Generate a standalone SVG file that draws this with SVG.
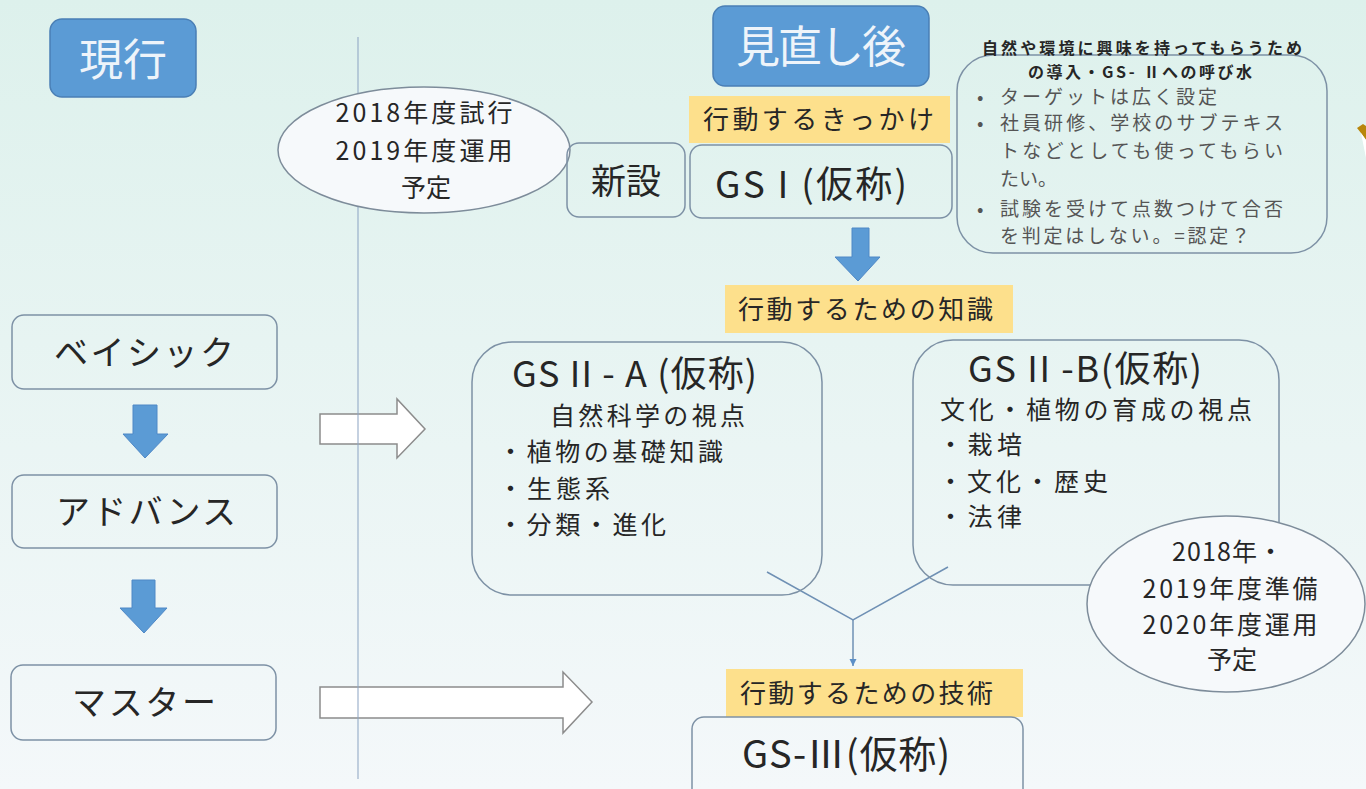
<svg xmlns="http://www.w3.org/2000/svg" width="1366" height="789" viewBox="0 0 1366 789">
<defs>
<linearGradient id="bg" x1="0" y1="0" x2="0" y2="1">
<stop offset="0" stop-color="#ddf1ec"/>
<stop offset="1" stop-color="#f4f8fa"/>
</linearGradient>
<marker id="tri" viewBox="0 0 10 10" refX="10" refY="5" markerWidth="5" markerHeight="5" orient="auto" markerUnits="strokeWidth">
<path d="M0,0 L10,5 L0,10 Z" fill="#5b8fc7"/>
</marker>
</defs>
<style>
.t{font-family:"Noto Sans CJK JP","Noto Sans",sans-serif;fill:#262626}
.w{font-family:"Noto Sans CJK JP","Noto Sans",sans-serif;fill:#eef4fa}
.g{font-family:"Noto Sans CJK JP","Noto Sans",sans-serif;fill:#555}
.b{font-family:"Noto Sans CJK JP","Noto Sans",sans-serif;fill:#262626;font-weight:bold}
.box{fill:none;stroke:#7d91a5;stroke-width:1.5}
.blue{fill:#5b9bd5;stroke:#4a7fb5;stroke-width:1.5}
.lab{fill:#fde08c}
.ell{fill:#f6f9fb;stroke:#7d8c9a;stroke-width:1.5}
.warr{fill:#ffffff;stroke:#8c8c8c;stroke-width:1.5}
.barr{fill:#5b9bd5;stroke:#4f88c6;stroke-width:1}
.con{fill:none;stroke:#6f90b4;stroke-width:1.5}
</style>
<rect x="0" y="0" width="1366" height="789" fill="url(#bg)"/>

<g id="connectors">
<path class="warr" d="M320,414 L397,414 L397,399 L425,429 L397,458 L397,444 L320,444 Z"/>
<path class="warr" d="M320,687 L563,687 L563,672 L592,702 L563,733 L563,718 L320,718 Z"/>
<line x1="358" y1="37" x2="358" y2="779" stroke="#8ea6c4" stroke-width="1.2" opacity="0.85"/>
<path class="barr" d="M133,405 L157,405 L157,434 L168,434 L145,458 L123,434 L133,434 Z"/>
<path class="barr" d="M132,580 L155,580 L155,608 L167,608 L144,633 L120,608 L132,608 Z"/>
<path class="barr" d="M852,228 L869,228 L869,257 L880,257 L858,281 L835,257 L852,257 Z"/>
<path class="con" d="M767,572 L853,620 L948,567"/>
<line class="con" x1="853" y1="620" x2="853" y2="666" marker-end="url(#tri)"/>
</g>

<g id="genkou">
<rect class="blue" x="50" y="19" width="146" height="78" rx="12"/>
<text class="w" x="123" y="76" font-size="44" text-anchor="middle">現行</text>
</g>

<g id="minaoshigo">
<rect class="blue" x="713" y="6" width="216" height="80" rx="12"/>
<text class="w" x="821" y="63" font-size="44" text-anchor="middle" textLength="170" lengthAdjust="spacing">見直し後</text>
</g>

<g id="basic">
<rect class="box" x="12" y="315" width="265" height="74" rx="12"/>
<text class="t" x="54" y="365" font-size="34" textLength="180" lengthAdjust="spacing">ベイシック</text>
</g>

<g id="advance">
<rect class="box" x="12" y="475" width="265" height="73" rx="12"/>
<text class="t" x="56" y="524" font-size="34" textLength="180" lengthAdjust="spacing">アドバンス</text>
</g>

<g id="master">
<rect class="box" x="11" y="665" width="265" height="75" rx="12"/>
<text class="t" x="72" y="715" font-size="34" textLength="144" lengthAdjust="spacing">マスター</text>
</g>

<g id="ellipse1">
<ellipse class="ell" cx="424" cy="150" rx="146" ry="63"/>
<text class="t" x="424" y="122" font-size="25" text-anchor="middle" textLength="177" lengthAdjust="spacing">2018年度試行</text>
<text class="t" x="424" y="160" font-size="25" text-anchor="middle" textLength="177" lengthAdjust="spacing">2019年度運用</text>
<text class="t" x="426" y="197" font-size="25" text-anchor="middle">予定</text>
</g>

<g id="shinsetsu">
<rect class="box" x="567" y="143" width="118" height="74" rx="12"/>
<text class="t" x="626" y="194" font-size="35" text-anchor="middle">新設</text>
</g>

<g id="gs1">
<rect class="lab" x="689" y="96" width="261" height="47"/>
<text class="t" x="703" y="129" font-size="26" textLength="231" lengthAdjust="spacing">行動するきっかけ</text>
<rect class="box" x="690" y="145" width="262" height="73" rx="12"/>
<text class="t" x="715" y="198" font-size="37" textLength="192" lengthAdjust="spacing">GS I (仮称)</text>
</g>

<g id="note">
<rect class="box" x="957" y="55" width="370" height="198" rx="36"/>
<text class="b" x="1142" y="54" font-size="16" text-anchor="middle" textLength="320" lengthAdjust="spacing">自然や環境に興味を持ってもらうため</text>
<text class="b" x="1140" y="78" font-size="16" text-anchor="middle" textLength="224" lengthAdjust="spacing">の導入・GS- Ⅱへの呼び水</text>
<text class="g" font-size="19">
<tspan x="977" y="104">•</tspan><tspan x="1000" y="104" textLength="217" lengthAdjust="spacing">ターゲットは広く設定</tspan>
<tspan x="977" y="130">•</tspan><tspan x="1000" y="130" textLength="283" lengthAdjust="spacing">社員研修、学校のサブテキス</tspan>
<tspan x="1000" y="158" textLength="283" lengthAdjust="spacing">トなどとしても使ってもらい</tspan>
<tspan x="1000" y="186">たい。</tspan>
<tspan x="977" y="216">•</tspan><tspan x="1000" y="216" textLength="283" lengthAdjust="spacing">試験を受けて点数つけて合否</tspan>
<tspan x="1000" y="243" textLength="250" lengthAdjust="spacing">を判定はしない。=認定？</tspan>
</text>
</g>

<g id="edge-ornament">
<path d="M1357,128 L1363,124 L1366,126 L1366,140 L1361,133 Z" fill="#b8860b"/>
<path d="M1361,133 L1366,140 L1366,158 Z" fill="#ffffff"/>
</g>

<g id="knowledge-label">
<rect class="lab" x="725" y="285" width="288" height="48"/>
<text class="t" x="738" y="319" font-size="26" textLength="255" lengthAdjust="spacing">行動するための知識</text>
</g>

<g id="gs2a">
<rect class="box" x="472" y="342" width="350" height="253" rx="40"/>
<text class="t" x="512" y="387" font-size="36" textLength="245" lengthAdjust="spacing">GS II - A (仮称)</text>
<text class="t" x="550" y="425" font-size="25" textLength="195" lengthAdjust="spacing">自然科学の視点</text>
<text class="t" x="498" y="461" font-size="25" textLength="225" lengthAdjust="spacing">・植物の基礎知識</text>
<text class="t" x="498" y="498" font-size="25" textLength="112" lengthAdjust="spacing">・生態系</text>
<text class="t" x="498" y="534" font-size="25" textLength="168" lengthAdjust="spacing">・分類・進化</text>
</g>

<g id="gs2b">
<rect class="box" x="913" y="340" width="366" height="245" rx="40"/>
<text class="t" x="968" y="382" font-size="36" textLength="234" lengthAdjust="spacing">GS II -B(仮称)</text>
<text class="t" x="940" y="419" font-size="25" textLength="312" lengthAdjust="spacing">文化・植物の育成の視点</text>
<text class="t" x="938" y="454" font-size="25" textLength="84" lengthAdjust="spacing">・栽培</text>
<text class="t" x="938" y="491" font-size="25" textLength="170" lengthAdjust="spacing">・文化・歴史</text>
<text class="t" x="938" y="526" font-size="25" textLength="84" lengthAdjust="spacing">・法律</text>
</g>

<g id="ellipse2">
<ellipse class="ell" cx="1226" cy="604" rx="139" ry="88"/>
<text class="t" x="1172" y="561" font-size="25" textLength="111" lengthAdjust="spacing">2018年・</text>
<text class="t" x="1230" y="598" font-size="25" text-anchor="middle" textLength="175" lengthAdjust="spacing">2019年度準備</text>
<text class="t" x="1230" y="634" font-size="25" text-anchor="middle" textLength="175" lengthAdjust="spacing">2020年度運用</text>
<text class="t" x="1232" y="669" font-size="25" text-anchor="middle">予定</text>
</g>

<g id="gs3">
<rect class="lab" x="726" y="669" width="297" height="48"/>
<text class="t" x="740" y="703" font-size="26" textLength="253" lengthAdjust="spacing">行動するための技術</text>
<rect class="box" x="692" y="717" width="331" height="90" rx="12"/>
<text class="t" x="742" y="768" font-size="38" textLength="208" lengthAdjust="spacing">GS-Ⅲ(仮称)</text>
</g>
</svg>
